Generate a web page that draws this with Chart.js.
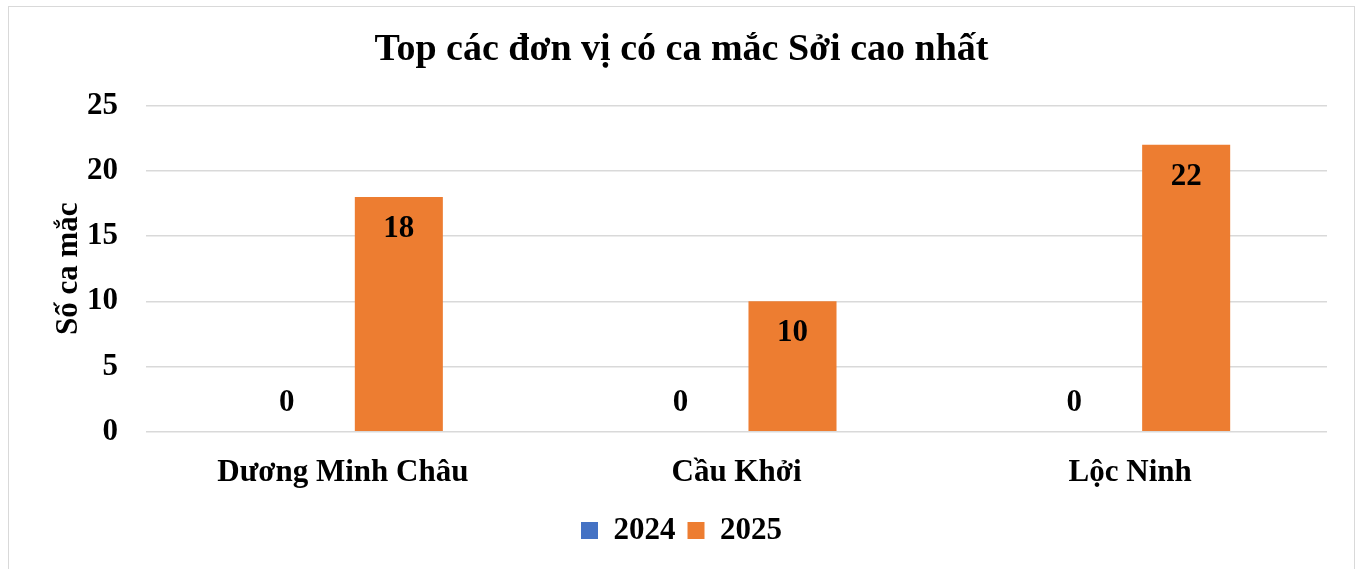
<!DOCTYPE html>
<html>
<head>
<meta charset="utf-8">
<script src="https://cdn.jsdelivr.net/npm/chart.js@4"></script>
<style>
  html, body { margin: 0; padding: 0; background: #fff; overflow: hidden; }
  #wrap { position: relative; width: 1363px; height: 569px; }
  #frame { position: absolute; left: 8px; top: 6px; width: 1347px; height: 580px; border: 1px solid #d9d9d9; box-sizing: border-box; }
  canvas { position: absolute; left: 0; top: 0; }
</style>
</head>
<body>
<div id="wrap">
  <div id="frame"></div>
  <canvas id="measlesChart" width="1363" height="569"></canvas>
</div>
<script>
// Chart data
const units = ['Dương Minh Châu', 'Cầu Khởi', 'Lộc Ninh'];
const cases2024 = [0, 0, 0];
const cases2025 = [18, 10, 22];
const yTicks = [0, 5, 10, 15, 20, 25];

const serif = "'Liberation Serif', 'Times New Roman', serif";

// Simple value labels: inside the top of non-zero bars, just above the axis for zeros
const valueLabels = {
    id: 'valueLabels',
    afterDatasetsDraw(chart) {
        const ctx = chart.ctx;
        ctx.save();
        ctx.font = 'bold 31px ' + serif;
        ctx.fillStyle = '#000';
        ctx.textAlign = 'center';
        ctx.textBaseline = 'middle';
        chart.data.datasets.forEach((ds, i) => {
            chart.getDatasetMeta(i).data.forEach((bar, j) => {
                const v = ds.data[j];
                const y = v > 0 ? bar.y + 32 : bar.y - 29;
                ctx.fillText(String(v), bar.x, y);
            });
        });
        ctx.restore();
    }
};

const config = {
    type: 'bar',
    data: {
        labels: units,
        datasets: [
            { label: '2024', data: cases2024, backgroundColor: '#4472C4' },
            { label: '2025', data: cases2025, backgroundColor: '#ED7D31' }
        ]
    },
    options: {
        responsive: false,
        animation: false,
        layout: { padding: { left: 0, right: 0, top: 0, bottom: 13 } },
        datasets: {
            bar: { categoryPercentage: 0.569, barPercentage: 0.786 }
        },
        plugins: {
            title: {
                display: true,
                text: 'Top các đơn vị có ca mắc Sởi cao nhất',
                color: '#000',
                font: { family: serif, size: 38, weight: 'bold' },
                padding: { top: 27, bottom: 33 }
            },
            legend: {
                position: 'bottom',
                labels: {
                    color: '#000',
                    font: { family: serif, size: 31, weight: 'bold' },
                    boxWidth: 17,
                    boxHeight: 17,
                    padding: 12
                }
            },
            tooltip: { enabled: false }
        },
        scales: {
            x: {
                afterFit(scale) { scale.height -= 4; },
                grid: { display: false },
                border: { display: false },
                ticks: {
                    color: '#000',
                    padding: 15,
                    font: { family: serif, size: 31, weight: 'bold' }
                }
            },
            y: {
                min: 0,
                max: 25,
                afterFit(scale) { scale.width = 146; },
                afterBuildTicks(scale) { scale.ticks = yTicks.map(v => ({ value: v })); },
                grid: { color: '#d9d9d9', lineWidth: 1.5, drawTicks: false },
                border: { display: false },
                ticks: {
                    color: '#000',
                    padding: 28,
                    font: { family: serif, size: 31, weight: 'bold' }
                },
                title: {
                    display: true,
                    text: 'Số ca mắc',
                    color: '#000',
                    font: { family: serif, size: 31, weight: 'bold' },
                    padding: { top: 50, bottom: 0 }
                }
            },
            // empty right-hand spacer so the plot ends where the reference does
            spacer: {
                type: 'linear',
                position: 'right',
                grid: { display: false },
                border: { display: false },
                ticks: { display: false },
                afterFit(scale) { scale.width = 36; }
            }
        }
    },
    plugins: [valueLabels]
};

const chartContext = document.getElementById('measlesChart').getContext('2d');
const measlesChart = new Chart(chartContext, config);
</script>
</body>
</html>
